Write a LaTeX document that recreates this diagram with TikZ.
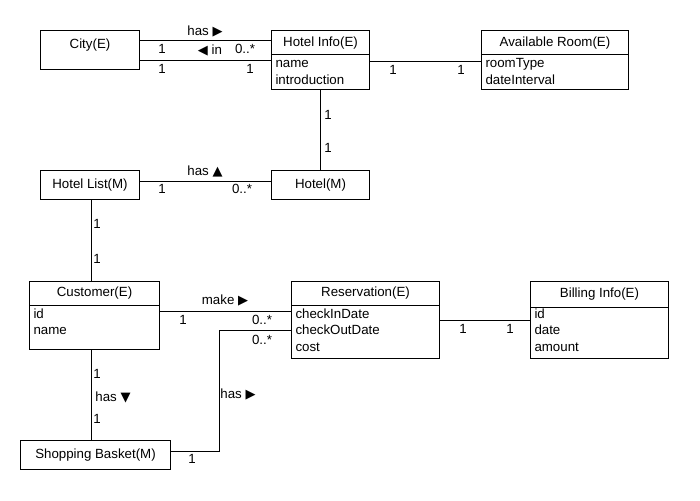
\documentclass[tikz,border=0pt]{standalone}
\usepackage{fontspec}
\setmainfont{Liberation Sans}
\newfontfamily\symf{DejaVu Sans}
\usetikzlibrary{calc}
\newcommand\trR{{\fontsize{13}{15}\symf ▶}}
\newcommand\trL{{\fontsize{13}{15}\symf ◀}}
\newcommand\trU{{\fontsize{13}{15}\symf ▲}}
\newcommand\trD{{\fontsize{13}{15}\symf ▼}}
\tikzset{
  ent/.style={draw,anchor=north west,inner sep=0pt,font=\fontsize{13.3}{15}\selectfont},
  ttl/.style={inner sep=0pt,font=\fontsize{13.3}{15}\selectfont},
  attr/.style={anchor=base west,inner sep=0pt,font=\fontsize{13.3}{15}\selectfont},
  lbl/.style={inner sep=0pt,font=\fontsize{13.3}{15}\selectfont}
}
\begin{document}
\begin{tikzpicture}[x=1pt,y=-1pt,line width=1pt]
    \useasboundingbox (0,0) rectangle (700,500);
    % entity box with a title compartment
    \def\ent#1(#2,#3)#4#5#6#7{
      \node[ent,minimum width=#4,minimum height=#5] (#1) at (#2,#3) {};
      \node[ttl] (#1-t) at ($(#1.north)+(0,#6)$) {#7};
    }
    % divider and attribute lines
    \def\att#1(#2)(#3)#4{
      \draw (#1.west |- 0,#2) -- (#1.east |- 0,#2);
      \foreach \s [count=\i] in {#4} {
        \node[attr] (#1-\i) at ($(#1.west |- 0,#3)+(4,{(\i-1)*16.8})$) {\s};
      }
    }
    \def\lb(#1,#2)#3#4{\node[lbl] (#3) at (#1,#2) {#4};}

    \ent city(40,30){99}{39}{15}{City(E)}
    \ent hinfo(271,30){98}{59}{13.5}{Hotel Info(E)}
    \att hinfo(55)(68){name,introduction}
    \ent aroom(481,30){147}{59}{13.5}{Available Room(E)}
    \att aroom(55)(68){roomType,dateInterval}
    \node[ent,minimum width=99,minimum height=29] (hlist) at (40,170) {Hotel List(M)};
    \node[ent,minimum width=98,minimum height=29] (hotel) at (271,170) {Hotel(M)};
    \ent cust(29,281){130}{68}{12.5}{Customer(E)}
    \att cust(305)(318){id,name}
    \ent resv(291,281){148}{77}{12.5}{Reservation(E)}
    \att resv(305)(318){checkInDate,checkOutDate,cost}
    \ent bill(530,281){138}{77}{13.5}{Billing Info(E)}
    \att bill(307)(318){id,date,amount}
    \node[ent,minimum width=150,minimum height=29] (basket) at (20,440) {Shopping Basket(M)};

    \draw (city.east |- 0,41) -- (hinfo.west |- 0,41);
    \draw (city.east |- 0,61) -- (hinfo.west |- 0,61);
    \draw (hinfo.east |- 0,62) -- (aroom.west |- 0,62);
    \draw (hinfo.south) -- (hotel.north);
    \draw (hlist.east |- 0,181) -- (hotel.west |- 0,181);
    \draw (91,0 |- hlist.south) -- (91,0 |- cust.north);
    \draw (cust.east |- 0,311) -- (resv.west |- 0,311);
    \draw (resv.east |- 0,320) -- (bill.west |- 0,320);
    \draw (91,0 |- cust.south) -- (91,0 |- basket.north);
    \coordinate (bend) at (219,330);
    \draw (basket.east |- 0,451) -| (bend) -- (resv.west |- bend);

    \lb(205,31){hasA}{has \trR}
    \lb(162,49){m1}{1}
    \lb(210,50){inA}{\trL\ in}
    \lb(245,49){m2}{0..*}
    \lb(162,69){m3}{1}
    \lb(250,69){m4}{1}
    \lb(393,70){m5}{1}
    \lb(461,70){m6}{1}
    \lb(328,115){m7}{1}
    \lb(328,148){m8}{1}
    \lb(205,171){hasB}{has \trU}
    \lb(162,189){m9}{1}
    \lb(242,189){m10}{0..*}
    \lb(97,224){m11}{1}
    \lb(97,259){m12}{1}
    \lb(225,300){make}{make \trR}
    \lb(183,320){m13}{1}
    \lb(262,320){m14}{0..*}
    \lb(463,329){m15}{1}
    \lb(510,329){m16}{1}
    \lb(97,374){m17}{1}
    \lb(113,397){hasC}{has \trD}
    \lb(97,419){m18}{1}
    \lb(192,459){m19}{1}
    \lb(238,394){hasD}{has \trR}
    \lb(262,340){m20}{0..*}
  \end{tikzpicture}
\end{document}
